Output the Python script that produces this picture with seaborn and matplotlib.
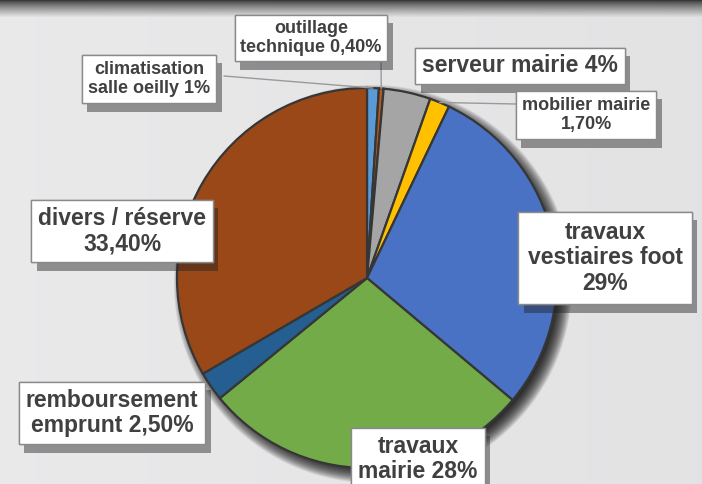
import numpy as np
import matplotlib
matplotlib.use("Agg")
import matplotlib.pyplot as plt
import matplotlib.patheffects as pe
from matplotlib.patches import Circle
import seaborn as sns

# donnees du budget
postes = ["climatisation\nsalle oeilly", "outillage\ntechnique", "serveur mairie",
          "mobilier mairie", "travaux\nvestiaires foot", "travaux\nmairie",
          "remboursement\nemprunt", "divers / réserve"]
pourcents = [1.0, 0.4, 4.0, 1.7, 29.0, 28.0, 2.5, 33.4]
etiquettes = ["climatisation\nsalle oeilly 1%", "outillage\ntechnique 0,40%",
              "serveur mairie 4%", "mobilier mairie\n1,70%",
              "travaux\nvestiaires foot\n29%", "travaux\nmairie 28%",
              "remboursement\nemprunt 2,50%", "divers / réserve\n33,40%"]
couleurs = ["#5B9BD5", "#B8581C", "#A5A5A5", "#FFC000",
            "#4A72C4", "#72AB48", "#255E91", "#9A4818"]

sns.set_theme(style="white")
plt.rcParams["font.family"] = ["Liberation Sans", "DejaVu Sans"]

W, H = 702, 484
fig = plt.figure(figsize=(W / 100, H / 100), dpi=100)
ax = fig.add_axes([0, 0, 1, 1])

# fond gris avec bande sombre en haut
yy = np.linspace(0, 1, H)[:, None]
xx = np.linspace(0, 1, W)[None, :]
fond = 0.915 - 0.025 * xx + 0.0 * yy
bande = np.clip(yy * H / 17.0, 0, 1)
fond = fond * (0.25 + 0.75 * bande ** 0.8)
ax.imshow(np.dstack([fond, fond, fond * 1.005]).clip(0, 1), extent=(0, W, 0, H),
          aspect="auto", zorder=0, origin="upper")

cx, cy, R = 367, H - 278, 190

# ombre du camembert (floue, decalee en bas a droite)
for k in range(16):
    ax.add_patch(Circle((cx + 6, cy - 6), R + 9 - k * 1.0, facecolor="black",
                        alpha=0.09, lw=0, zorder=1))

wedges, _ = ax.pie(pourcents, colors=couleurs, startangle=90, counterclock=False,
                   center=(cx, cy), radius=R, frame=True,
                   wedgeprops=dict(edgecolor="#363636", linewidth=1.6))
for w in wedges:
    w.set_zorder(2)

ax.set_xlim(0, W)
ax.set_ylim(0, H)
ax.set_aspect("equal")
ax.axis("off")

# position des etiquettes (pixels, origine en haut)
pos = [(149, 79), (311, 38), (520, 66), (586, 115),
       (605, 258), (418, 459), (112, 413), (122, 231)]
taille = [13, 13, 16.5, 13, 16.5, 16.5, 16.5, 16.5]
pads = [0.35, 0.3, 0.3, 0.35, 0.4, 0.3, 0.3, 0.3]

for lab, (px, py), fs, p in zip(etiquettes, pos, taille, pads):
    t = ax.text(px, H - py, lab, ha="center", va="center", fontsize=fs,
                fontweight="bold", color="#404040", linespacing=1.15, zorder=5,
                bbox=dict(boxstyle=f"square,pad={p}", facecolor="white",
                          edgecolor="#8a8a8a", linewidth=1.0))
    t.get_bbox_patch().set_path_effects([
        pe.withSimplePatchShadow(offset=(4, -6), shadow_rgbFace="#222222", alpha=0.45),
        pe.Normal()])

# traits de rappel vers les petites parts
debut = np.cumsum([0] + pourcents[:-1])
milieu = 90 - (debut + np.array(pourcents) / 2) * 3.6
rappels = {0: (224, 76), 1: (381, 62), 3: (516, 104)}
for i, (lx, ly) in rappels.items():
    a = np.deg2rad(milieu[i])
    ax.plot([lx, cx + R * np.cos(a)], [H - ly, cy + R * np.sin(a)],
            color="#9a9a9a", lw=1.0, zorder=4)

fig.savefig("out.png", dpi=100)
